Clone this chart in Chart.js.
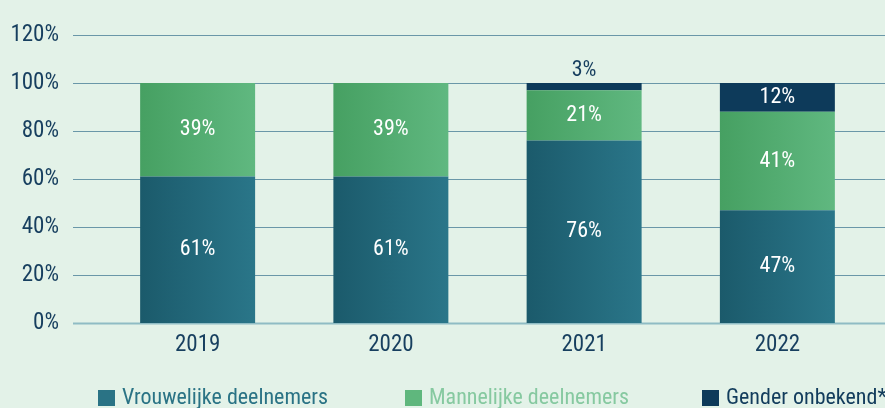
<!DOCTYPE html>
<html>
<head>
<meta charset="utf-8">
<script src="https://cdn.jsdelivr.net/npm/chart.js@4"></script>
<style>
  html, body { margin:0; padding:0; background:#e3f2e8; }
  #wrap { width:885px; height:408px; }
</style>
</head>
<body>
<div id="wrap"><canvas id="c" width="885" height="408"></canvas></div>
<script>
const categories = ['2019', '2020', '2021', '2022'];
const vrouwelijk = [61, 61, 76, 47];
const mannelijk = [39, 39, 21, 41];
const onbekend = [0, 0, 3, 12];
const seriesNames = ['Vrouwelijke deelnemers', 'Mannelijke deelnemers', 'Gender onbekend*'];
const yMin = 0, yMax = 120, yStep = 20;

const FONT = "'Roboto Condensed', 'Liberation Sans Narrow', 'DejaVu Sans Condensed', sans-serif";
const BAR_PCT = 0.595;

function grad(ctx, c1, c2) {
  const chart = ctx.chart;
  const xs = chart.scales.x;
  if (!xs || !chart.chartArea) return c2;
  const cx = xs.getPixelForValue(ctx.dataIndex);
  const half = (xs.width / categories.length) * BAR_PCT / 2;
  if (!isFinite(cx)) return c2;
  const g = chart.ctx.createLinearGradient(cx - half, 0, cx + half, 0);
  g.addColorStop(0, c1);
  g.addColorStop(1, c2);
  return g;
}

const gridPlugin = {
  id: 'fullGrid',
  beforeDatasetsDraw(chart) {
    const ys = chart.scales.y, ctx = chart.ctx;
    ctx.save();
    ys.ticks.forEach(t => {
      const y = Math.round(ys.getPixelForValue(t.value)) + 0.5;
      ctx.beginPath();
      ctx.lineWidth = t.value === 0 ? 2 : 1;
      ctx.strokeStyle = t.value === 0 ? '#8fbcc4' : '#6a97a8';
      ctx.moveTo(73, y);
      ctx.lineTo(chart.width, y);
      ctx.stroke();
    });
    ctx.restore();
  }
};

const labelPlugin = {
  id: 'segLabels',
  afterDatasetsDraw(chart) {
    const ctx = chart.ctx;
    ctx.save();
    ctx.font = "22px " + FONT;
    ctx.textAlign = 'center';
    ctx.textBaseline = 'middle';
    chart.data.datasets.forEach((ds, di) => {
      const meta = chart.getDatasetMeta(di);
      meta.data.forEach((bar, i) => {
        const v = ds.data[i];
        if (!v) return;
        const top = bar.y, bottom = bar.base;
        const h = bottom - top;
        if (h >= 20) {
          ctx.fillStyle = '#ffffff';
          ctx.fillText(v + '%', bar.x, (top + bottom) / 2);
        } else {
          ctx.fillStyle = '#173f5f';
          ctx.fillText(v + '%', bar.x, top - 13);
        }
      });
    });
    ctx.restore();
  }
};

const legendColors = ['#2a7385', '#5fb77d', '#0d3a5a'];
const legendTextColors = ['#2a7385', '#86c9a0', '#123c5c'];
const legendX = [98, 405, 702];

const legendPlugin = {
  id: 'bottomLegend',
  afterDraw(chart) {
    const ctx = chart.ctx;
    ctx.save();
    ctx.font = "22px " + FONT;
    ctx.textAlign = 'left';
    ctx.textBaseline = 'middle';
    chart.data.datasets.forEach((ds, i) => {
      const x = legendX[i];
      ctx.fillStyle = legendColors[i];
      ctx.fillRect(x, 390, 17, 16);
      ctx.fillStyle = legendTextColors[i];
      ctx.fillText(ds.label, x + 24, 398);
    });
    ctx.restore();
  }
};

new Chart(document.getElementById('c'), {
  type: 'bar',
  data: {
    labels: categories,
    datasets: [
      { label: seriesNames[0], data: vrouwelijk,
        backgroundColor: ctx => grad(ctx, '#1b5a6b', '#2a7689') },
      { label: seriesNames[1], data: mannelijk,
        backgroundColor: ctx => grad(ctx, '#46a062', '#60b880') },
      { label: seriesNames[2], data: onbekend, backgroundColor: '#0d3a5a' }
    ]
  },
  options: {
    responsive: false,
    animation: false,
    devicePixelRatio: 1,
    layout: { padding: { top: 35, right: 11, bottom: 40, left: 0 } },
    datasets: { bar: { categoryPercentage: 1, barPercentage: BAR_PCT, borderWidth: 0 } },
    scales: {
      x: {
        stacked: true,
        grid: { display: false, drawTicks: false },
        border: { display: false },
        ticks: { color: '#173f5f', font: { family: FONT, size: 23 }, padding: 8 },
        afterFit(s) { s.height = 45; }
      },
      y: {
        stacked: true,
        min: yMin, max: yMax,
        grid: { display: false, drawTicks: true, tickLength: 34 },
        border: { display: false },
        ticks: { stepSize: yStep, color: '#173f5f', font: { family: FONT, size: 23 }, padding: 8,
                 callback: v => v + '%' },
        afterFit(s) { s.width = 101; }
      }
    },
    plugins: {
      tooltip: { enabled: false },
      legend: { display: false }
    }
  },
  plugins: [gridPlugin, labelPlugin, legendPlugin]
});
</script>
</body>
</html>
